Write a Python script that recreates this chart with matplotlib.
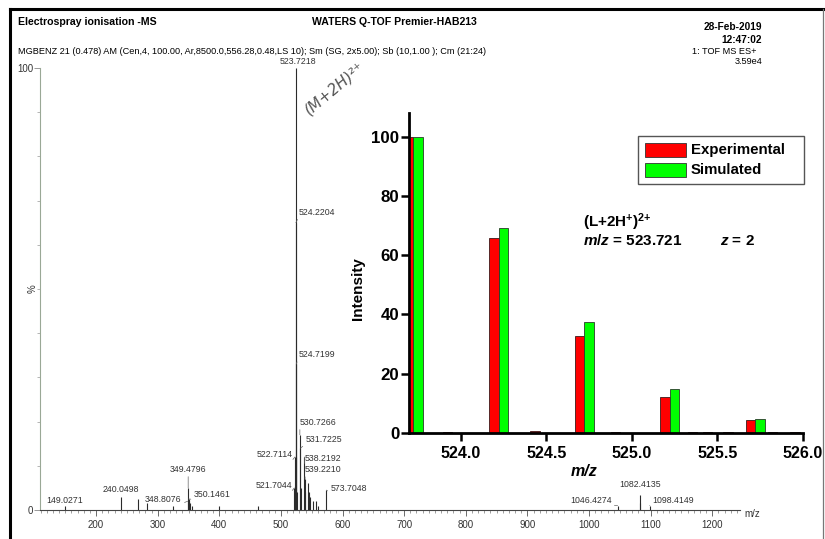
import numpy as np
import matplotlib
matplotlib.use("Agg")
import matplotlib.pyplot as plt
from matplotlib.patches import Rectangle
from matplotlib.lines import Line2D

plt.rcParams['font.family'] = ['Liberation Sans', 'DejaVu Sans']
plt.rcParams['mathtext.fontset'] = 'custom'
plt.rcParams['mathtext.rm'] = 'Liberation Sans:bold'
plt.rcParams['mathtext.bf'] = 'Liberation Sans:bold'
plt.rcParams['mathtext.it'] = 'Liberation Sans:bold:italic'

# ---- full-scan spectrum (stick peaks, relative abundance %) ----
scan_mz = [149.0271, 240.0498, 268.0, 283.0, 325.0, 348.8076, 349.4796, 350.1461,
           351.5, 352.1, 356.0, 400.0, 463.0, 521.7044, 522.7114, 523.7218,
           524.2204, 524.7199, 525.22, 525.72, 530.7266, 531.7225, 532.72,
           538.2192, 539.2210, 539.72, 544.72, 545.72, 547.2, 552.7, 556.2,
           560.2, 573.7048, 1046.4274, 1082.4135, 1083.4, 1098.4149]
scan_rel = [0.8, 3.0, 2.5, 1.5, 1.0, 2.0, 5.0, 2.5,
            2.0, 1.5, 1.0, 1.0, 1.0, 5.0, 12.0, 100.0,
            65.0, 33.0, 12.0, 4.0, 17.0, 14.0, 5.0,
            12.0, 7.0, 4.0, 6.0, 4.0, 3.0, 2.0, 2.0,
            1.0, 4.5, 1.0, 3.5, 1.5, 1.0]
scan_xticks = [200, 300, 400, 500, 600, 700, 800, 900, 1000, 1100, 1200]

# labelled peaks: text offset from the peak top (pixels) and alignment
peak_labels = [
    (523.7218, 2, 2, 'center', 'bottom', False),
    (524.2204, 3, 6, 'left', 'bottom', True),
    (524.7199, 2, 5, 'left', 'bottom', True),
    (530.7266, 0, 8, 'left', 'bottom', True),
    (531.7225, 5, 4, 'left', 'bottom', True),
    (538.2192, 0, -2, 'left', 'center', True),
    (539.2210, 0, 5, 'left', 'bottom', True),
    (522.7114, -2, 2, 'right', 'center', True),
    (521.7044, -2, 2, 'right', 'center', True),
    (573.7048, 4, 2, 'left', 'center', True),
    (349.4796, 0, 14, 'center', 'bottom', True),
    (348.8076, -6, 2, 'right', 'center', True),
    (350.1461, 5, 4, 'left', 'center', True),
    (240.0498, 0, 3, 'center', 'bottom', False),
    (149.0271, 0, 1, 'center', 'bottom', False),
    (1046.4274, -6, 5, 'right', 'center', True),
    (1082.4135, 0, 6, 'center', 'bottom', False),
    (1098.4149, 3, 5, 'left', 'center', True),
]

# ---- isotope pattern of the (L+2H)2+ ion ----
exp_mz = [523.72, 523.95, 524.22, 524.46, 524.72, 524.93, 525.22, 525.38,
          525.47, 525.59, 525.72, 525.85, 525.98]
exp_int = [100.0, 0.4, 65.8, 0.7, 32.8, 0.4, 12.3, 0.4,
           0.5, 0.3, 4.4, 0.3, 0.4]
sim_mz = [523.72, 524.22, 524.72, 525.22, 525.72]
sim_int = [100.0, 69.2, 37.6, 14.9, 4.8]
iso_xticks = [524.0, 524.5, 525.0, 525.5, 526.0]
iso_yticks = [0, 20, 40, 60, 80, 100]
legend_labels = ['Experimental', 'Simulated']
legend_colors = ['#ff0000', '#00ff00']

W, H = 825, 539
fig = plt.figure(figsize=(W / 100, H / 100), dpi=100)


def fx(x):
    return x / W


def fy(y):
    return 1 - y / H


# page frame
fig.add_artist(Line2D([fx(10), fx(825)], [fy(9), fy(9)], color='black', lw=2.2))
fig.add_artist(Line2D([fx(10), fx(10)], [fy(9), fy(539)], color='black', lw=2.2))
fig.add_artist(Line2D([fx(823), fx(823)], [fy(9), fy(539)], color='#777777', lw=0.9))

# header
fig.text(fx(18), fy(22), 'Electrospray ionisation -MS', fontsize=7.6,
         fontweight='bold', va='center', ha='left')
fig.text(fx(394), fy(22), 'WATERS Q-TOF Premier-HAB213', fontsize=7.6,
         fontweight='bold', va='center', ha='center')
fig.text(fx(762), fy(27), '28-Feb-2019', fontsize=7.3, fontweight='bold',
         va='center', ha='right')
fig.text(fx(762), fy(40), '12:47:02', fontsize=7.3, fontweight='bold',
         va='center', ha='right')
fig.text(fx(692), fy(51), '1: TOF MS ES+', fontsize=6.6, va='center', ha='left')
fig.text(fx(762), fy(62), '3.59e4', fontsize=6.6, va='center', ha='right')
fig.text(fx(18), fy(52),
         'MGBENZ 21 (0.478) AM (Cen,4, 100.00, Ar,8500.0,556.28,0.48,LS 10); '
         'Sm (SG, 2x5.00); Sb (10,1.00 ); Cm (21:24)',
         fontsize=6.6, va='center', ha='left')

# ---- full-scan axes ----
ax = fig.add_axes([fx(40), fy(510), 700 / W, 442 / H])
ax.set_xlim(109, 1245)
ax.set_ylim(0, 100)
ax.vlines(scan_mz, 0, scan_rel, color='#2b2b2b', lw=0.8)
for s in ('top', 'right'):
    ax.spines[s].set_visible(False)
ax.spines['left'].set_color('#9aa896')
ax.spines['left'].set_linewidth(0.8)
ax.spines['bottom'].set_color('#444444')
ax.spines['bottom'].set_linewidth(0.8)
ax.set_xticks(scan_xticks)
ax.set_xticks(np.arange(110, 1250, 10), minor=True)
ax.set_yticks([0, 100])
ax.set_yticks(np.arange(10, 100, 10), minor=True)
ax.tick_params(axis='x', which='major', length=4, width=0.6, color='#555555',
               labelsize=7, labelcolor='#333333', pad=3)
ax.tick_params(axis='x', which='minor', length=2, width=0.5, color='#777777')
ax.tick_params(axis='y', which='major', length=4, width=0.6, color='#888888',
               labelsize=7, labelcolor='#333333', pad=1)
ax.tick_params(axis='y', which='minor', length=2, width=0.5, color='#999999')
ax.text(-0.010, 0.5, '%', transform=ax.transAxes, rotation=90, fontsize=7,
        color='#333333', ha='center', va='center')
ax.text(1.007, -0.01, 'm/z', transform=ax.transAxes, fontsize=7, color='#333333',
        ha='left', va='center')

rel_of = dict(zip(scan_mz, scan_rel))
for mz, dx, dy, ha, va, link in peak_labels:
    arrow = None
    if link:
        rx = {'left': 0.0, 'right': 1.0, 'center': 0.5}[ha]
        arrow = dict(arrowstyle='-', color='#666666', lw=0.5, shrinkA=0,
                     shrinkB=0, relpos=(rx, 0.0))
    ax.annotate(f'{mz:.4f}', xy=(mz, rel_of[mz]), xytext=(dx, dy),
                textcoords='offset pixels', fontsize=6.3, color='#333333',
                ha=ha, va=va, arrowprops=arrow)

# handwritten assignment beside the base peak
fig.text(fx(334), fy(88), '(M+2H)²⁺', family='DejaVu Sans', style='italic',
         fontsize=11, color='#555555', rotation=40, ha='center', va='center')

# ---- isotope-pattern inset ----
ins = fig.add_axes([fx(409), fy(433), 394 / W, 320 / H])
ins.set_xlim(523.696, 526.0)
ins.set_ylim(0, 108)
w = 0.055
ins.bar(np.array(exp_mz) - w / 2, exp_int, width=w, color=legend_colors[0],
        edgecolor='#3a1a1a', lw=0.6, zorder=2)
ins.bar(np.array(sim_mz) + w / 2, sim_int, width=w, color=legend_colors[1],
        edgecolor='#2a3a2a', lw=0.6, zorder=2)
for s in ('top', 'right'):
    ins.spines[s].set_visible(False)
for s in ('left', 'bottom'):
    ins.spines[s].set_linewidth(2.0)
    ins.spines[s].set_color('black')
ins.set_xticks(iso_xticks)
ins.set_xticklabels([f'{v:.1f}' for v in iso_xticks])
ins.set_yticks(iso_yticks)
ins.tick_params(axis='x', length=6, width=1.8, labelsize=11.5, pad=3)
ins.tick_params(axis='y', length=6, width=1.8, labelsize=12.2, pad=1)
for lab in ins.get_xticklabels() + ins.get_yticklabels():
    lab.set_fontweight('bold')
ins.set_ylabel('Intensity', fontsize=11, fontweight='bold')
ins.yaxis.set_label_coords((365 - 409) / 394, 0.45)
ins.set_xlabel('m/z', fontsize=11.5, fontweight='bold', fontstyle='italic')
ins.xaxis.set_label_coords((584 - 409) / 394, (433 - 472) / 320)
ins.xaxis.label.set_va('center')

# legend box with colour keys
fig.add_artist(Rectangle((fx(638), fy(184)), (804 - 638) / W, 48 / H,
                         transform=fig.transFigure, facecolor='white',
                         edgecolor='#555555', lw=1.0))
for i, (lab, col) in enumerate(zip(legend_labels, legend_colors)):
    yc = 150 + 20 * i
    fig.add_artist(Rectangle((fx(645), fy(yc + 7)), 41 / W, 14 / H,
                             transform=fig.transFigure, facecolor=col,
                             edgecolor='#333333', lw=0.6))
    fig.text(fx(691), fy(yc), lab, fontsize=10.8, fontweight='bold',
             ha='left', va='center')

fig.text(fx(583), fy(227), r'$\mathbf{(L{+}2H^{+})^{2{+}}}$', fontsize=11,
         ha='left', va='baseline')
fig.text(fx(583), fy(245), r'$\mathit{m/z}$ = 523.721', fontsize=11,
         fontweight='bold', ha='left', va='baseline')
fig.text(fx(720), fy(245), r'$\mathit{z}$ = 2', fontsize=11,
         fontweight='bold', ha='left', va='baseline')

fig.savefig('out.png', dpi=100)
